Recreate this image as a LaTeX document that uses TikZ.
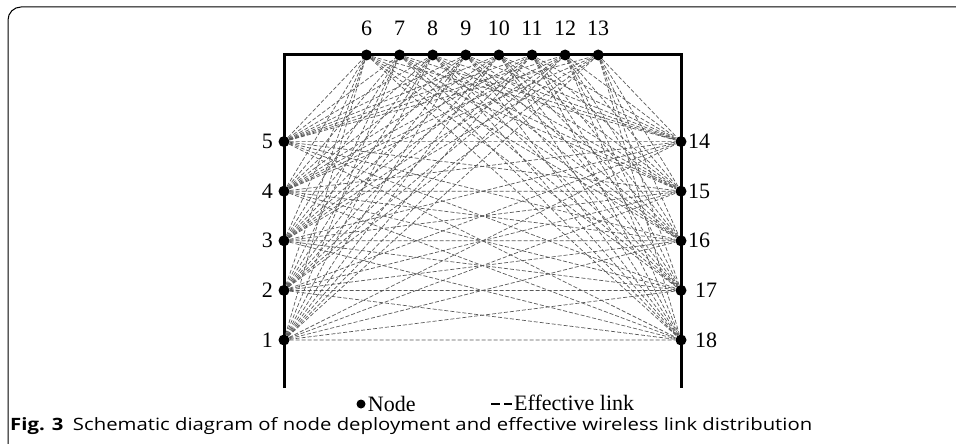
\documentclass[tikz,border=0pt]{standalone}
\usepackage{fontspec}
\setmainfont{Liberation Serif}
\newfontfamily\capfont{Open Sans}

\tikzset{
    sensor/.style={circle, fill=black, inner sep=0pt, minimum size=11pt},
    lbl/.style={inner sep=0pt, font=\fontsize{22}{26}\selectfont},
    link/.style={draw=black!65, line width=0.7pt, dash pattern=on 4pt off 2pt},
    wall/.style={line width=3pt}
}

\begin{document}
\begin{tikzpicture}[x=1pt, y=-1pt]
    \useasboundingbox (0,0) rectangle (956,444);
    % frame of the figure
    \draw[line width=1pt, rounded corners=13pt] (8,444) -- (8,7) -- (956,7);
    % walls
    \draw[wall] (284,388) -- (284,55) -- (681,55) -- (681,388);
    % nodes on the left wall
    \foreach \i in {1,...,5}
        \node[sensor] (n\i) at (284, {340-49.6*(\i-1)}) {};
    % nodes on the top wall
    \foreach \i in {6,...,13}
        \node[sensor] (n\i) at ({366.5+33.1*(\i-6)}, 55) {};
    % nodes on the right wall
    \foreach \i in {14,...,18}
        \node[sensor] (n\i) at (681, {141.6+49.6*(\i-14)}) {};
    % labels
    \foreach \i in {1,...,5}
        \node[lbl, anchor=east] at ([xshift=-11pt]n\i) {\i};
    \foreach \i in {6,...,13}
        \node[lbl] at ([yshift=27pt]n\i) {\i};
    \foreach \i in {14,15,16}
        \node[lbl, anchor=west] at ([xshift=7pt]n\i) {\i};
    \foreach \i in {17,18}
        \node[lbl, anchor=west] at ([xshift=14pt]n\i) {\i};
    % effective links
    \foreach \a in {1,...,5}
        \foreach \b in {6,...,18}
            \draw[link] (n\a) -- (n\b);
    \foreach \a in {6,...,13}
        \foreach \b in {14,...,18}
            \draw[link] (n\a) -- (n\b);
    % legend
    \node[sensor, minimum size=9pt] (key) at (361,404) {};
    \node[lbl, anchor=west] (keyn) at ([xshift=2pt]key.east) {Node};
    \node[lbl, anchor=west] (keyl) at (491,403) {\rule[5.5pt]{9pt}{2pt}\kern4pt\rule[5.5pt]{8pt}{2pt}\kern2pt Effective link};
    % caption
    \node[anchor=base west, inner sep=0pt, font=\capfont\fontsize{17}{20}\selectfont]
        (cap) at (10,430) {\resizebox{802pt}{\height}{\textbf{Fig. 3}\hspace{8pt}Schematic diagram of node deployment and effective wireless link distribution}};
\end{tikzpicture}
\end{document}
